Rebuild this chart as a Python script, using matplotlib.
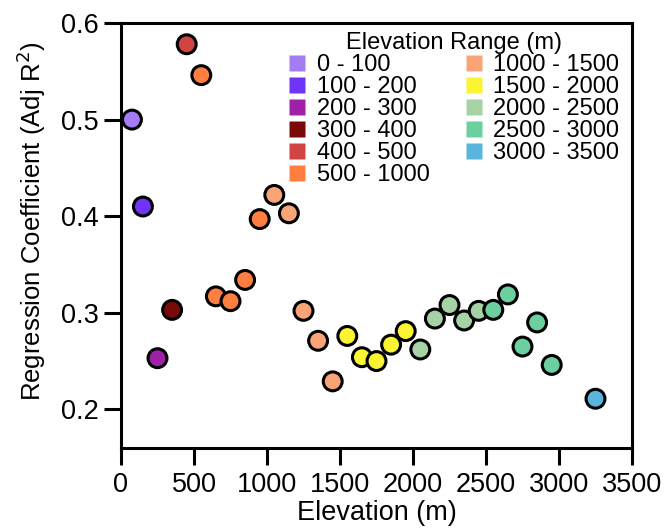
import matplotlib
matplotlib.use("Agg")
import matplotlib.pyplot as plt
from matplotlib.lines import Line2D
import numpy as np

plt.rcParams['font.family'] = ['Liberation Sans', 'DejaVu Sans']

# Data
range_labels = ["0 - 100", "100 - 200", "200 - 300", "300 - 400", "400 - 500",
                "500 - 1000", "1000 - 1500", "1500 - 2000", "2000 - 2500",
                "2500 - 3000", "3000 - 3500"]
range_edges = [0, 100, 200, 300, 400, 500, 1000, 1500, 2000, 2500, 3000, 3500]
range_colors = ["#A47CF5", "#7033F8", "#A021A8", "#7A0A0A", "#D04444",
                "#FF7E40", "#F9A477", "#FAF432", "#A5D3A6", "#6CCFA0", "#5AB5DC"]

elevation = [75, 150, 250, 350, 450,
             550, 650, 750, 850, 950,
             1050, 1150, 1250, 1350, 1450,
             1550, 1650, 1750, 1850, 1950,
             2050, 2150, 2250, 2350, 2450,
             2550, 2650, 2750, 2850, 2950,
             3250]
coef = [0.500, 0.410, 0.253, 0.303, 0.578,
        0.546, 0.317, 0.312, 0.334, 0.397,
        0.422, 0.403, 0.302, 0.271, 0.229,
        0.276, 0.254, 0.250, 0.267, 0.281,
        0.262, 0.294, 0.308, 0.292, 0.302,
        0.303, 0.319, 0.265, 0.290, 0.246,
        0.211]

xticks = [0, 500, 1000, 1500, 2000, 2500, 3000, 3500]
yticks = [0.2, 0.3, 0.4, 0.5, 0.6]

fig = plt.figure(figsize=(6.65, 5.29), dpi=100)
ax = fig.add_axes([121/665, (529-448)/529, (632-121)/665, (448-23)/529])

elev = np.array(elevation)
cf = np.array(coef)
grp = np.digitize(elev, range_edges[1:-1])
colors = [range_colors[g] for g in grp]
ax.scatter(elev, cf, s=185, c=colors, edgecolors='black', linewidths=2.2, zorder=3, clip_on=False)

ax.set_xlim(0, 3500)
ax.set_ylim(0.16, 0.6)
ax.set_xticks(xticks)
ax.set_xticklabels([str(t) for t in xticks])
ax.set_yticks(yticks)
ax.set_yticklabels([f"{t:.1f}" for t in yticks])
for sp in ax.spines.values():
    sp.set_linewidth(2.2)
ax.tick_params(axis='both', direction='out', length=12, width=2.2, labelsize=19.5)
ax.tick_params(axis='x', pad=5)
ax.tick_params(axis='y', pad=4)

ax.set_xlabel("Elevation (m)", fontsize=19.5, labelpad=2)
ax.set_ylabel("Regression Coefficient (Adj R$^2$)", fontsize=18.5)
ax.yaxis.set_label_coords(-0.143, 0.533)

handles = [Line2D([0], [0], marker='s', linestyle='none', markersize=11,
                  markerfacecolor=c, markeredgecolor='none') for c in range_colors]
leg = ax.legend(handles, range_labels, title="Elevation Range (m)", ncol=2,
                loc='upper left', bbox_to_anchor=(288/665, 1 - 32/529),
                bbox_transform=fig.transFigure, frameon=False, fontsize=17,
                title_fontsize=17, borderpad=0, handlelength=0.8,
                handletextpad=0.41, columnspacing=1.5, labelspacing=0.0,
                borderaxespad=0)

fig.savefig("out.png", dpi=100)
